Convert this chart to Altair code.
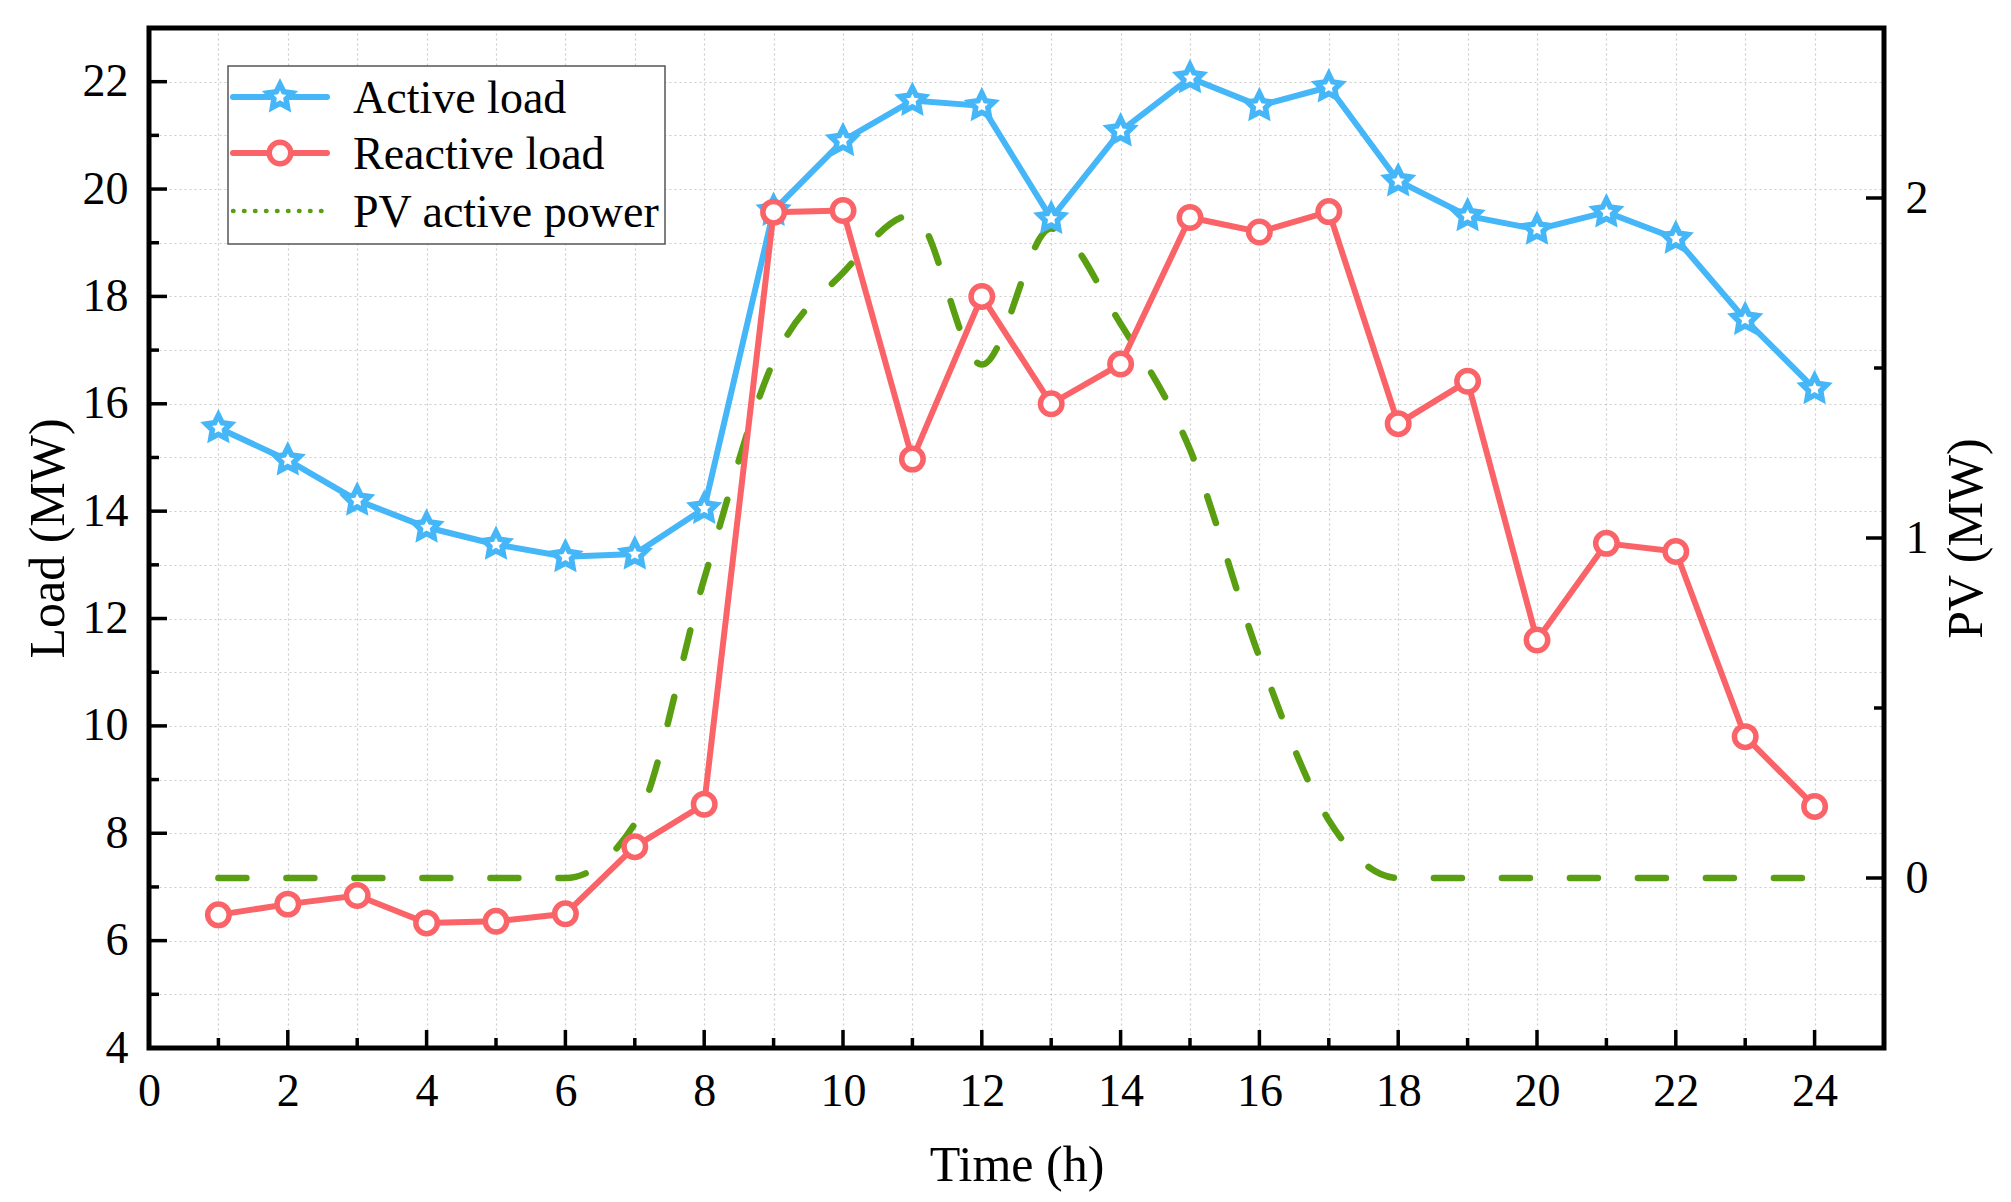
import altair as alt
import pandas as pd

# ---------------- data ----------------
hours = list(range(1, 25))
active_load = [15.55, 14.95, 14.2, 13.7, 13.38, 13.15, 13.2, 14.05, 19.6, 20.9, 21.65, 21.55,
               19.45, 21.08, 22.07, 21.55, 21.9, 20.15, 19.5, 19.25, 19.57, 19.08, 17.57, 16.28]
reactive_load = [6.48, 6.68, 6.84, 6.33, 6.36, 6.5, 7.75, 8.54, 19.57, 19.6, 14.97, 18.0,
                 16.0, 16.74, 19.47, 19.2, 19.58, 15.63, 16.42, 11.6, 13.4, 13.25, 9.8, 8.5]
pv_power = [0, 0, 0, 0, 0, 0, 0.16, 0.88, 1.52, 1.78, 1.95, 1.51,
            1.91, 1.63, 1.26, 0.65, 0.17, 0, 0, 0, 0, 0, 0, 0]

x_grid = list(range(0, 26))
x_major_ticks = list(range(2, 25, 2))
x_minor_ticks = list(range(1, 25, 2))
yl_grid = list(range(4, 24))
yl_major_ticks = list(range(6, 23, 2))
yl_minor_ticks = list(range(5, 23, 2))
yr_labels = [0, 1, 2]
yr_minor_ticks = [0.5, 1.5]

legend_labels = ["Active load", "Reactive load", "PV active power"]
BLUE = "#45B6F7"
RED = "#FA6468"
GREEN = "#5A9E12"
FONT = "Liberation Serif"
W, H = 1735, 1020

# five-pointed star symbol (unit path for Vega's custom shape)
STAR = ("M0,-1L0.2939,-0.4045L0.9511,-0.309L0.4755,0.1545L0.5878,0.809L0,0.5"
        "L-0.5878,0.809L-0.4755,0.1545L-0.9511,-0.309L-0.2939,-0.4045Z")

df = pd.DataFrame({"hour": hours, "active": active_load, "reactive": reactive_load, "pv": pv_power})
one = pd.DataFrame({"k": [0]})

xs = alt.Scale(domain=[0, 25], nice=False, zero=False)
ysl = alt.Scale(domain=[4, 23], nice=False, zero=False)
ysr = alt.Scale(domain=[-0.5, 2.5], nice=False, zero=False)

lab = dict(labelFont=FONT, labelFontSize=46, labelColor="black",
           titleFont=FONT, titleFontSize=50, titleFontWeight="normal", titleColor="black",
           domain=False, ticks=False, tickSize=0, labelFlush=False)
grid = dict(grid=True, gridColor="#cccccc", gridDash=[2, 3], gridWidth=1.2)

ax_x = alt.Axis(orient="bottom", values=x_grid, labelPadding=21, format="d",
                labelExpr="datum.value % 2 == 0 ? datum.label : ''",
                title="Time (h)", titleX=W / 2, titleY=92, titleBaseline="top", **lab, **grid)
ax_yl = alt.Axis(orient="left", values=yl_grid, labelPadding=21, format="d",
                 labelExpr="datum.value % 2 == 0 ? datum.label : ''",
                 title="Load (MW)", titleX=-76, titleY=H / 2, titleAngle=270,
                 titleBaseline="bottom", titleAlign="center", **lab, **grid)
ax_yr = alt.Axis(orient="right", values=yr_labels, labelPadding=21, grid=False, format="d",
                 title="PV (MW)", titleX=57, titleY=H / 2, titleAngle=270,
                 titleBaseline="top", titleAlign="center", **lab)

base = alt.Chart(df)

# ---------------- PV group (drawn first, underneath) ----------------
pv_line = base.mark_line(color=GREEN, strokeWidth=6.5, strokeDash=[28, 40], strokeCap="round",
                         interpolate="monotone").encode(
    x=alt.X("hour:Q", scale=xs, axis=ax_x),
    y=alt.Y("pv:Q", scale=ysr, axis=ax_yr),
)
tick_style = dict(color="black", strokeWidth=3.5)
pv_tmaj = alt.Chart(pd.DataFrame({"t": yr_labels})).mark_rule(**tick_style).encode(
    y=alt.Y("t:Q", scale=ysr), x=alt.value(W - 18), x2=alt.value(W))
pv_tmin = alt.Chart(pd.DataFrame({"t": yr_minor_ticks})).mark_rule(**tick_style).encode(
    y=alt.Y("t:Q", scale=ysr), x=alt.value(W - 10), x2=alt.value(W))
pv_group = alt.layer(pv_line, pv_tmaj, pv_tmin)

# ---------------- load group ----------------
act_line = base.mark_line(color=BLUE, strokeWidth=6).encode(
    x=alt.X("hour:Q", scale=xs),
    y=alt.Y("active:Q", scale=ysl, axis=ax_yl),
)
act_pts = base.mark_point(shape=STAR, size=660, filled=True, fill="white", stroke=BLUE,
                          strokeWidth=5.5, opacity=1).encode(
    x=alt.X("hour:Q", scale=xs), y=alt.Y("active:Q", scale=ysl))
rea_line = base.mark_line(color=RED, strokeWidth=6).encode(
    x=alt.X("hour:Q", scale=xs), y=alt.Y("reactive:Q", scale=ysl))
rea_pts = base.mark_point(shape="circle", size=462, filled=True, fill="white", stroke=RED,
                          strokeWidth=5.5, opacity=1).encode(
    x=alt.X("hour:Q", scale=xs), y=alt.Y("reactive:Q", scale=ysl))

xt_maj = alt.Chart(pd.DataFrame({"t": x_major_ticks})).mark_rule(**tick_style).encode(
    x=alt.X("t:Q", scale=xs), y=alt.value(H), y2=alt.value(H - 18))
xt_min = alt.Chart(pd.DataFrame({"t": x_minor_ticks})).mark_rule(**tick_style).encode(
    x=alt.X("t:Q", scale=xs), y=alt.value(H), y2=alt.value(H - 10))
yt_maj = alt.Chart(pd.DataFrame({"t": yl_major_ticks})).mark_rule(**tick_style).encode(
    y=alt.Y("t:Q", scale=ysl), x=alt.value(0), x2=alt.value(18))
yt_min = alt.Chart(pd.DataFrame({"t": yl_minor_ticks})).mark_rule(**tick_style).encode(
    y=alt.Y("t:Q", scale=ysl), x=alt.value(0), x2=alt.value(10))

# ---------------- legend ----------------
leg = alt.Chart(one)
leg_box = leg.mark_rect(fill="white", stroke="#555555", strokeWidth=1.5).encode(
    x=alt.value(79), x2=alt.value(516), y=alt.value(38), y2=alt.value(216))
leg_l1 = leg.mark_rule(color=BLUE, strokeWidth=6, strokeCap="round").encode(
    x=alt.value(84), x2=alt.value(178), y=alt.value(69))
leg_p1 = leg.mark_point(shape=STAR, size=660, filled=True, fill="white", stroke=BLUE,
                        strokeWidth=5.5, opacity=1).encode(x=alt.value(131), y=alt.value(69))
leg_l2 = leg.mark_rule(color=RED, strokeWidth=6, strokeCap="round").encode(
    x=alt.value(84), x2=alt.value(178), y=alt.value(125))
leg_p2 = leg.mark_point(shape="circle", size=462, filled=True, fill="white", stroke=RED,
                        strokeWidth=5.5, opacity=1).encode(x=alt.value(131), y=alt.value(125))
leg_l3 = leg.mark_rule(color=GREEN, strokeWidth=4.5, strokeDash=[0.5, 10.5], strokeCap="round").encode(
    x=alt.value(84), x2=alt.value(178), y=alt.value(183))
leg_texts = [
    leg.mark_text(text=t, align="left", baseline="middle", font=FONT, fontSize=46, color="black").encode(
        x=alt.value(204), y=alt.value(yy))
    for t, yy in zip(legend_labels, [71, 127, 185])
]

# plot frame drawn on top of everything
frame = leg.mark_rect(fillOpacity=0, stroke="black", strokeWidth=5).encode(
    x=alt.value(0), x2=alt.value(W), y=alt.value(0), y2=alt.value(H))

load_group = alt.layer(xt_maj, xt_min, yt_maj, yt_min, act_line, act_pts, rea_line, rea_pts,
                       leg_box, leg_l1, leg_p1, leg_l2, leg_p2, leg_l3, *leg_texts, frame)

chart = alt.layer(pv_group, load_group).resolve_scale(
    y="independent"
).properties(
    width=W, height=H,
    autosize=alt.AutoSizeParams(type="none"),
    padding={"left": 141, "top": 20, "right": 119, "bottom": 146},
    background="white",
).configure_view(
    strokeWidth=0
)

chart.save("out.html", embed_options={"renderer": "svg", "actions": False})
